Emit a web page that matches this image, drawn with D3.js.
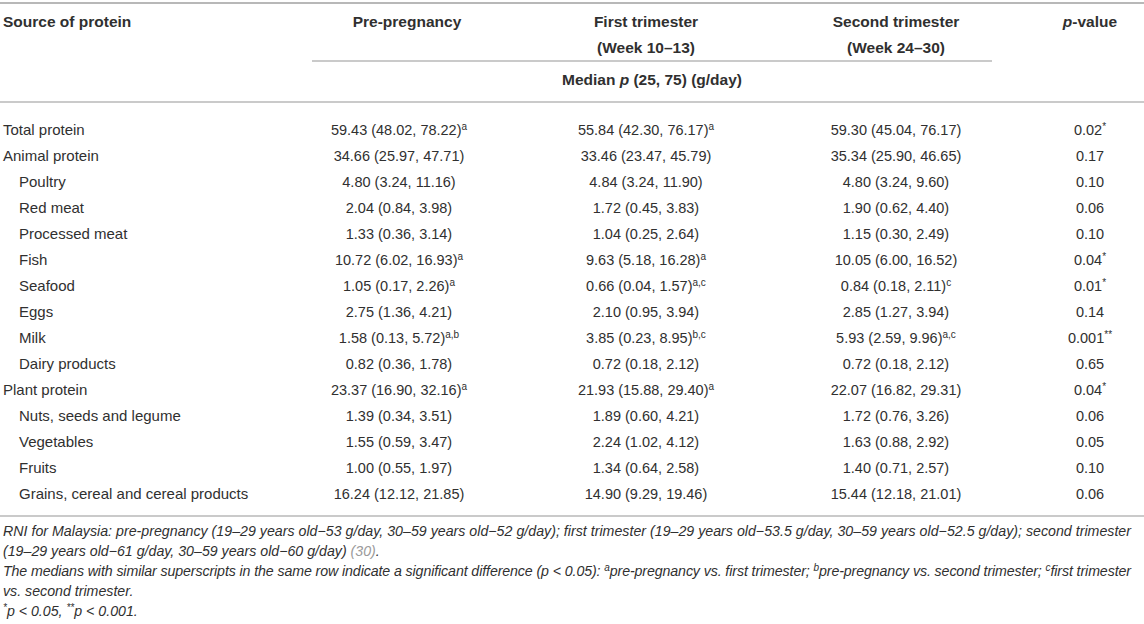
<!DOCTYPE html>
<html>
<head>
<meta charset="utf-8">
<script src="https://cdn.jsdelivr.net/npm/d3@7"></script>
<style>
  body { margin: 0; background: #fff; }
  text { font-family: "Liberation Sans", Arial, Helvetica, sans-serif; fill: #303030; }
</style>
</head>
<body>
<svg id="tbl" width="1144" height="624"></svg>
<script>

// ---------------- data ----------------
const sources = ["Total protein", "Animal protein", "Poultry", "Red meat", "Processed meat", "Fish",
  "Seafood", "Eggs", "Milk", "Dairy products", "Plant protein", "Nuts, seeds and legume",
  "Vegetables", "Fruits", "Grains, cereal and cereal products"];
const level = [0, 0, 1, 1, 1, 1, 1, 1, 1, 1, 0, 1, 1, 1, 1];

const prePregnancy = ["59.43 (48.02, 78.22)", "34.66 (25.97, 47.71)", "4.80 (3.24, 11.16)", "2.04 (0.84, 3.98)",
  "1.33 (0.36, 3.14)", "10.72 (6.02, 16.93)", "1.05 (0.17, 2.26)", "2.75 (1.36, 4.21)", "1.58 (0.13, 5.72)",
  "0.82 (0.36, 1.78)", "23.37 (16.90, 32.16)", "1.39 (0.34, 3.51)", "1.55 (0.59, 3.47)", "1.00 (0.55, 1.97)",
  "16.24 (12.12, 21.85)"];
const preSup = ["a", "", "", "", "", "a", "a", "", "a,b", "", "a", "", "", "", ""];

const firstTri = ["55.84 (42.30, 76.17)", "33.46 (23.47, 45.79)", "4.84 (3.24, 11.90)", "1.72 (0.45, 3.83)",
  "1.04 (0.25, 2.64)", "9.63 (5.18, 16.28)", "0.66 (0.04, 1.57)", "2.10 (0.95, 3.94)", "3.85 (0.23, 8.95)",
  "0.72 (0.18, 2.12)", "21.93 (15.88, 29.40)", "1.89 (0.60, 4.21)", "2.24 (1.02, 4.12)", "1.34 (0.64, 2.58)",
  "14.90 (9.29, 19.46)"];
const firstSup = ["a", "", "", "", "", "a", "a,c", "", "b,c", "", "a", "", "", "", ""];

const secondTri = ["59.30 (45.04, 76.17)", "35.34 (25.90, 46.65)", "4.80 (3.24, 9.60)", "1.90 (0.62, 4.40)",
  "1.15 (0.30, 2.49)", "10.05 (6.00, 16.52)", "0.84 (0.18, 2.11)", "2.85 (1.27, 3.94)", "5.93 (2.59, 9.96)",
  "0.72 (0.18, 2.12)", "22.07 (16.82, 29.31)", "1.72 (0.76, 3.26)", "1.63 (0.88, 2.92)", "1.40 (0.71, 2.57)",
  "15.44 (12.18, 21.01)"];
const secondSup = ["", "", "", "", "", "", "c", "", "a,c", "", "", "", "", "", ""];

const pValues = ["0.02", "0.17", "0.10", "0.06", "0.10", "0.04", "0.01", "0.14", "0.001", "0.65",
  "0.04", "0.06", "0.05", "0.10", "0.06"];
const pStars = ["*", "", "", "", "", "*", "*", "", "**", "", "*", "", "", "", ""];

const colNames = ["source", "pre", "first", "second", "p"];

// ---------------- layout ----------------
const svg = d3.select("#tbl");

const x = d3.scaleOrdinal().domain(colNames).range([3, 399, 646, 896, 1090]);
const y = d3.scalePoint().domain(sources).range([135, 499]);

function rule(x1, x2, yy, w) {
  svg.append("line").attr("x1", x1).attr("x2", x2).attr("y1", yy).attr("y2", yy)
    .attr("stroke", "#b8b8b8").attr("stroke-width", w);
}
rule(0, 1144, 3, 2);
rule(312, 992, 61, 1.5);
rule(0, 1144, 102, 1.5);
rule(0, 1144, 516, 1.5);

// header
const hdr = svg.append("g").attr("font-weight", "bold").attr("font-size", 15.5);
hdr.append("text").attr("x", x("source")).attr("y", 27).text("Source of protein");
hdr.append("text").attr("x", 407).attr("y", 27).attr("text-anchor", "middle").text("Pre-pregnancy");
hdr.append("text").attr("x", x("first")).attr("y", 27).attr("text-anchor", "middle").text("First trimester");
hdr.append("text").attr("x", x("first")).attr("y", 53).attr("text-anchor", "middle").text("(Week 10–13)");
hdr.append("text").attr("x", x("second")).attr("y", 27).attr("text-anchor", "middle").text("Second trimester");
hdr.append("text").attr("x", x("second")).attr("y", 53).attr("text-anchor", "middle").text("(Week 24–30)");
let pv = hdr.append("text").attr("x", x("p")).attr("y", 27).attr("text-anchor", "middle");
pv.append("tspan").attr("font-style", "italic").text("p");
pv.append("tspan").text("-value");
let med = hdr.append("text").attr("x", 652).attr("y", 85).attr("text-anchor", "middle");
med.append("tspan").text("Median ");
med.append("tspan").attr("font-style", "italic").text("p");
med.append("tspan").text(" (25, 75) (g/day)");

// body rows
const body = svg.append("g");
body.selectAll("text.src").data(sources).enter().append("text")
  .attr("class", "src")
  .attr("font-size", 15)
  .attr("x", (d, i) => x("source") + level[i] * 16)
  .attr("y", d => y(d))
  .text(d => d);

function valueCol(key, vals, sups) {
  const t = body.selectAll("text." + key).data(vals).enter().append("text")
    .attr("class", key)
    .attr("font-size", 14.5)
    .attr("x", x(key))
    .attr("y", (d, i) => y(sources[i]))
    .attr("text-anchor", "middle");
  t.append("tspan").text(d => d);
  t.append("tspan").attr("dy", -5).attr("font-size", 10).text((d, i) => sups[i]);
}
valueCol("pre", prePregnancy, preSup);
valueCol("first", firstTri, firstSup);
valueCol("second", secondTri, secondSup);
valueCol("p", pValues, pStars);

// footnotes
const foot = svg.append("g").attr("font-size", 14.2).attr("font-style", "italic");
foot.append("text").attr("x", 3).attr("y", 536)
  .attr("textLength", 1128).attr("lengthAdjust", "spacing")
  .text("RNI for Malaysia: pre-pregnancy (19–29 years old−53 g/day, 30–59 years old−52 g/day); first trimester (19–29 years old−53.5 g/day, 30–59 years old−52.5 g/day); second trimester");
let f2 = foot.append("text").attr("x", 3).attr("y", 556);
f2.append("tspan").text("(19–29 years old−61 g/day, 30–59 years old−60 g/day) ");
f2.append("tspan").style("fill", "#9a9a9a").text("(30)");
f2.append("tspan").text(".");
let f3 = foot.append("text").attr("x", 3).attr("y", 576)
  .attr("textLength", 1128).attr("lengthAdjust", "spacing");
f3.append("tspan").text("The medians with similar superscripts in the same row indicate a significant difference (p < 0.05): ");
f3.append("tspan").attr("dy", -5).attr("font-size", 10).text("a");
f3.append("tspan").attr("dy", 5).text("pre-pregnancy vs. first trimester; ");
f3.append("tspan").attr("dy", -5).attr("font-size", 10).text("b");
f3.append("tspan").attr("dy", 5).text("pre-pregnancy vs. second trimester; ");
f3.append("tspan").attr("dy", -5).attr("font-size", 10).text("c");
f3.append("tspan").attr("dy", 5).text("first trimester");
foot.append("text").attr("x", 3).attr("y", 596).text("vs. second trimester.");
let f5 = foot.append("text").attr("x", 3).attr("y", 616);
f5.append("tspan").attr("dy", -5).attr("font-size", 10).text("*");
f5.append("tspan").attr("dy", 5).text("p < 0.05, ");
f5.append("tspan").attr("dy", -5).attr("font-size", 10).text("**");
f5.append("tspan").attr("dy", 5).text("p < 0.001.");

</script>
</body>
</html>
